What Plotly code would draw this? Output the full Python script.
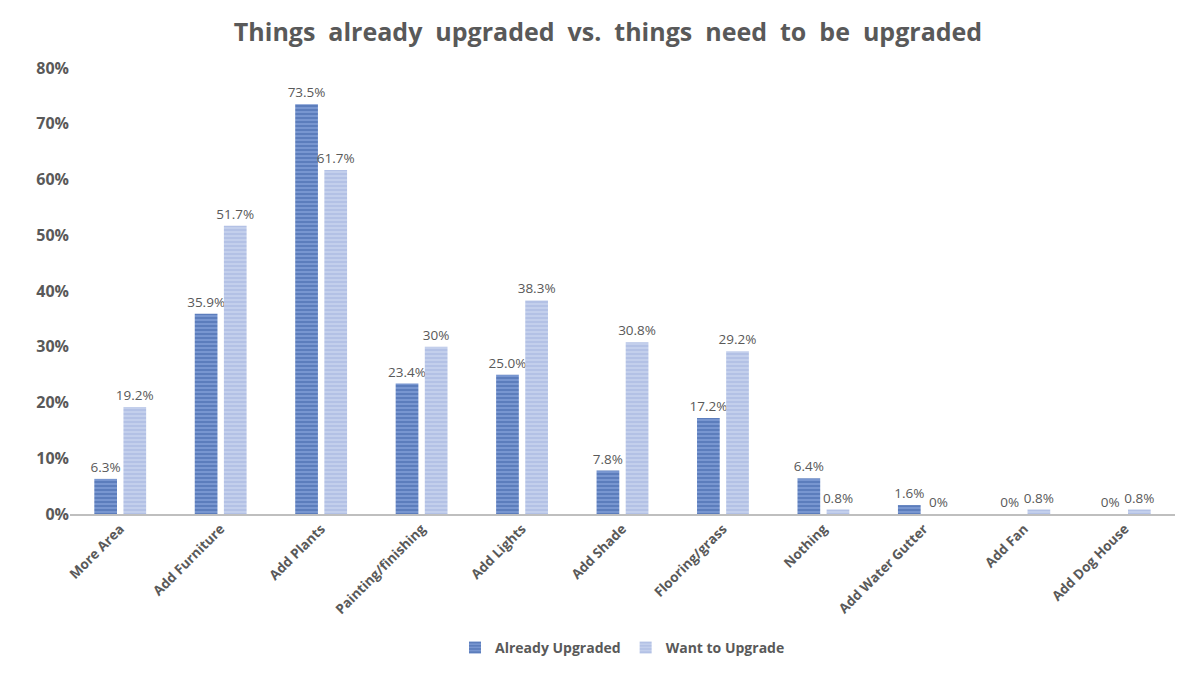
import plotly.graph_objects as go

categories = ["More Area", "Add Furniture", "Add Plants", "Painting/finishing", "Add Lights",
              "Add Shade", "Flooring/grass", "Nothing", "Add Water Gutter", "Add Fan", "Add Dog House"]
already = [6.3, 35.9, 73.5, 23.4, 25.0, 7.8, 17.2, 6.4, 1.6, 0, 0]
already_labels = ["6.3%", "35.9%", "73.5%", "23.4%", "25.0%", "7.8%", "17.2%", "6.4%", "1.6%", "0%", "0%"]
want = [19.2, 51.7, 61.7, 30, 38.3, 30.8, 29.2, 0.8, 0, 0.8, 0.8]
want_labels = ["19.2%", "51.7%", "61.7%", "30%", "38.3%", "30.8%", "29.2%", "0.8%", "0%", "0.8%", "0.8%"]

grey = "#595959"

fig = go.Figure()
fig.add_trace(go.Bar(
    x=categories, y=already, name="Already Upgraded",
    text=already_labels, textposition="outside", cliponaxis=False, constraintext="none",
    textfont=dict(size=13.5, color=grey, family="Open Sans, sans-serif"),
    marker=dict(color="#6f8fcc", line=dict(width=0),
                pattern=dict(shape="-", fgcolor="#3f63a8", bgcolor="#7896d0", size=4, solidity=0.5)),
))
fig.add_trace(go.Bar(
    x=categories, y=want, name="Want to Upgrade",
    text=want_labels, textposition="outside", cliponaxis=False, constraintext="none",
    textfont=dict(size=13.5, color=grey, family="Open Sans, sans-serif"),
    marker=dict(color="#b4c2e6", line=dict(width=0),
                pattern=dict(shape="-", fgcolor="#a3b4de", bgcolor="#c3cfec", size=4, solidity=0.5)),
))

title = "Things already upgraded vs. things need to be upgraded".replace(" ", "&nbsp;&nbsp;")

fig.update_layout(
    width=1200, height=679,
    paper_bgcolor="white", plot_bgcolor="white",
    font=dict(family="Open Sans, sans-serif", color=grey),
    title=dict(text=f"<b>{title}</b>",
               x=0.5, xanchor="center", y=0.965, yanchor="middle",
               font=dict(size=25, color=grey, family="Open Sans, sans-serif")),
    barmode="group", bargap=0.42, bargroupgap=0.22,
    margin=dict(l=62, r=33, t=60, b=173),
    legend=dict(orientation="h", x=0.5, xanchor="center", y=-0.30, yanchor="middle",
                font=dict(size=14, color=grey), traceorder="normal", itemwidth=30),
    showlegend=True,
)
fig.update_yaxes(range=[0, 80], showgrid=False, zeroline=False,
                 tickfont=dict(size=16, color=grey), ticks="", showline=False,
                 tickvals=list(range(0, 81, 10)),
                 ticktext=[f"<b>{v}%</b>" for v in range(0, 81, 10)])
fig.update_xaxes(tickangle=-45, showline=True, linecolor="#bfbfbf", linewidth=1.5,
                 tickfont=dict(size=13.5, color=grey), ticks="",
                 tickvals=categories, ticktext=[f"<b>{c}</b>" for c in categories])
fig.for_each_trace(lambda t: t.update(name=f"<b>{t.name}</b>"))

fig.write_html("out.html")
